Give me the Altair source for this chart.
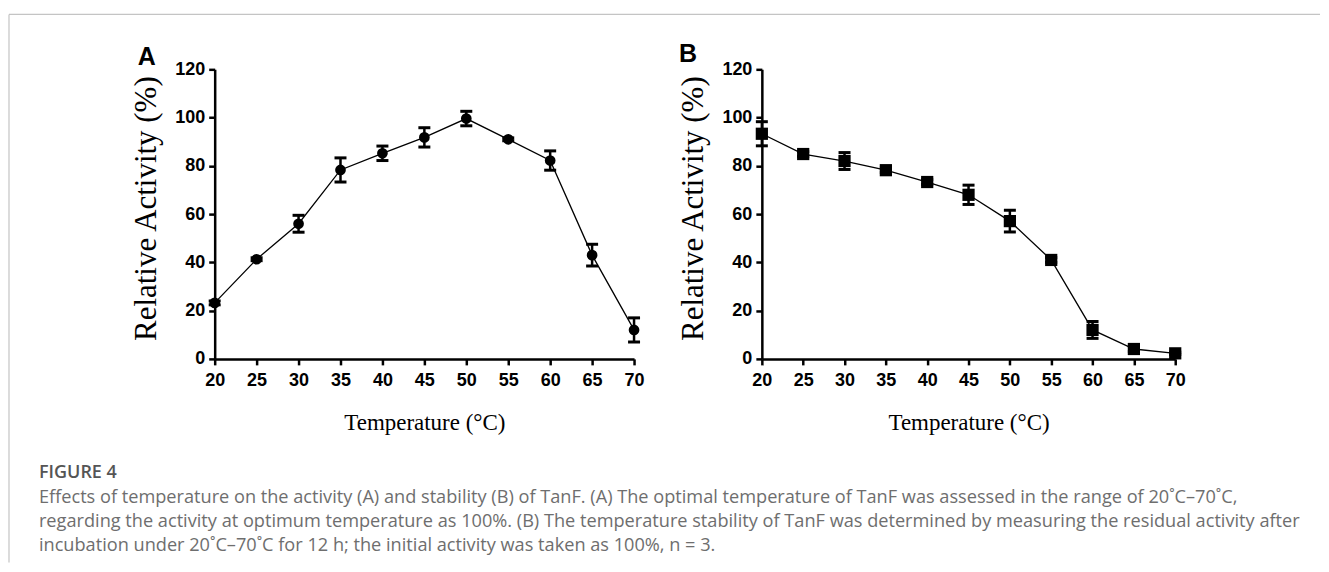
import altair as alt
import pandas as pd

temps = [20, 25, 30, 35, 40, 45, 50, 55, 60, 65, 70]
act_a = [23.2, 41.3, 56.0, 78.3, 85.2, 91.8, 99.6, 91.0, 82.2, 43.0, 12.0]
err_a = [0.8, 0.6, 3.5, 5.0, 3.0, 4.0, 3.0, 0.6, 4.0, 4.5, 5.0]
act_b = [93.3, 84.9, 82.0, 78.2, 73.3, 68.0, 57.1, 41.0, 12.0, 4.1, 2.3]
err_b = [5.0, 1.0, 3.5, 1.0, 1.0, 4.0, 4.5, 1.0, 3.5, 1.0, 0.5]
y_ticks = [0, 20, 40, 60, 80, 100, 120]
x_ticks = temps

caption_head = "FIGURE 4"
caption_lines = [
    "Effects of temperature on the activity (A) and stability (B) of TanF. (A) The optimal temperature of TanF was assessed in the range of 20˚C–70˚C,",
    "regarding the activity at optimum temperature as 100%. (B) The temperature stability of TanF was determined by measuring the residual activity after",
    "incubation under 20˚C–70˚C for 12 h; the initial activity was taken as 100%, n = 3.",
]

W_A, W_B, H = 420, 414, 290
SANS = "Liberation Sans"
SERIF = "Liberation Serif"


def panel(vals, errs, shape, size, width, letter, letter_x, letter_y):
    df = pd.DataFrame({
        "t": temps,
        "v": vals,
        "lo": [v - e for v, e in zip(vals, errs)],
        "hi": [v + e for v, e in zip(vals, errs)],
    })
    xenc = alt.X("t:Q", scale=alt.Scale(domain=[20, 70], nice=False, zero=False),
                 axis=alt.Axis(values=x_ticks, title="Temperature (°C)", titleX=width / 2,
                               titleY=64, titleBaseline="middle", titleFont=SERIF,
                               titleFontSize=23, titleFontWeight="normal", titleColor="black",
                               labelPadding=7, labelFlush=False))
    yenc = alt.Y("v:Q", scale=alt.Scale(domain=[0, 120], nice=False),
                 axis=alt.Axis(values=y_ticks, title="Relative Activity (%)", titleX=-68,
                               titleY=H / 2 - 6, titleAngle=-90, titleAlign="center",
                               titleBaseline="middle", titleFont=SERIF, titleFontSize=31,
                               titleFontWeight="normal", titleColor="black", labelPadding=4,
                               labelFlush=False))
    base = alt.Chart(df)
    line = base.mark_line(color="black", strokeWidth=1.3).encode(x=xenc, y=yenc)
    bars = base.mark_rule(color="black", strokeWidth=2.5, opacity=1).encode(x="t:Q", y="lo:Q", y2="hi:Q")
    cap_lo = base.mark_tick(orient="horizontal", color="black", opacity=1, size=12, thickness=3).encode(x="t:Q", y="lo:Q")
    cap_hi = base.mark_tick(orient="horizontal", color="black", opacity=1, size=12, thickness=3).encode(x="t:Q", y="hi:Q")
    pts = base.mark_point(shape=shape, filled=True, opacity=1, color="black", size=size).encode(x="t:Q", y="v:Q")
    lab = alt.Chart(pd.DataFrame({"s": [letter]})).mark_text(
        font=SANS, fontWeight="bold", fontSize=25, color="black", align="center", baseline="middle"
    ).encode(text="s:N", x=alt.value(letter_x), y=alt.value(letter_y))
    return [line, bars, cap_lo, cap_hi, pts, lab]


layers_a = panel(act_a, err_a, "circle", 115, W_A, "A", -68, -12)
layers_b = panel(act_b, err_b, "square", 150, W_B, "B", -74, -15)

frame_col = "#c4c4c4"
frame_top = alt.Chart(pd.DataFrame({"k": [0]})).mark_rule(color=frame_col, strokeWidth=1.2).encode(
    x=alt.value(-206), x2=alt.value(1107), y=alt.value(-55))
frame_left = alt.Chart(pd.DataFrame({"k": [0]})).mark_rule(color=frame_col, strokeWidth=1.2).encode(
    x=alt.value(-206), y=alt.value(-55), y2=alt.value(494))

head = alt.Chart(pd.DataFrame({"s": [caption_head]})).mark_text(
    font="Open Sans", fontWeight=600, fontSize=18, color="#555555", align="left", baseline="middle"
).encode(text="s:N", x=alt.value(-176), y=alt.value(404))

cap_layers = []
for i, ln in enumerate(caption_lines):
    cap_layers.append(
        alt.Chart(pd.DataFrame({"s": [ln]})).mark_text(
            font="Open Sans", fontSize=18.2, color="#6e6e6e", align="left", baseline="middle"
        ).encode(text="s:N", x=alt.value(-176), y=alt.value(429 + 24 * i))
    )

chart_a = alt.layer(*layers_a, frame_top, frame_left, head, *cap_layers).properties(width=W_A, height=H)
chart_b = alt.layer(*layers_b).properties(width=W_B, height=H)

chart = alt.hconcat(chart_a, chart_b, spacing=128, bounds="flush").properties(
    padding={"left": 0, "top": 5, "right": 0, "bottom": 0}, background="white"
).configure_view(stroke=None).configure_axis(
    grid=False, domainColor="black", domainWidth=2.5, tickColor="black", tickWidth=2.5,
    tickSize=6, labelFont=SANS, labelFontWeight="bold", labelFontSize=18, labelColor="black"
)

chart.save("out.html", embed_options={"renderer": "svg", "actions": False})
